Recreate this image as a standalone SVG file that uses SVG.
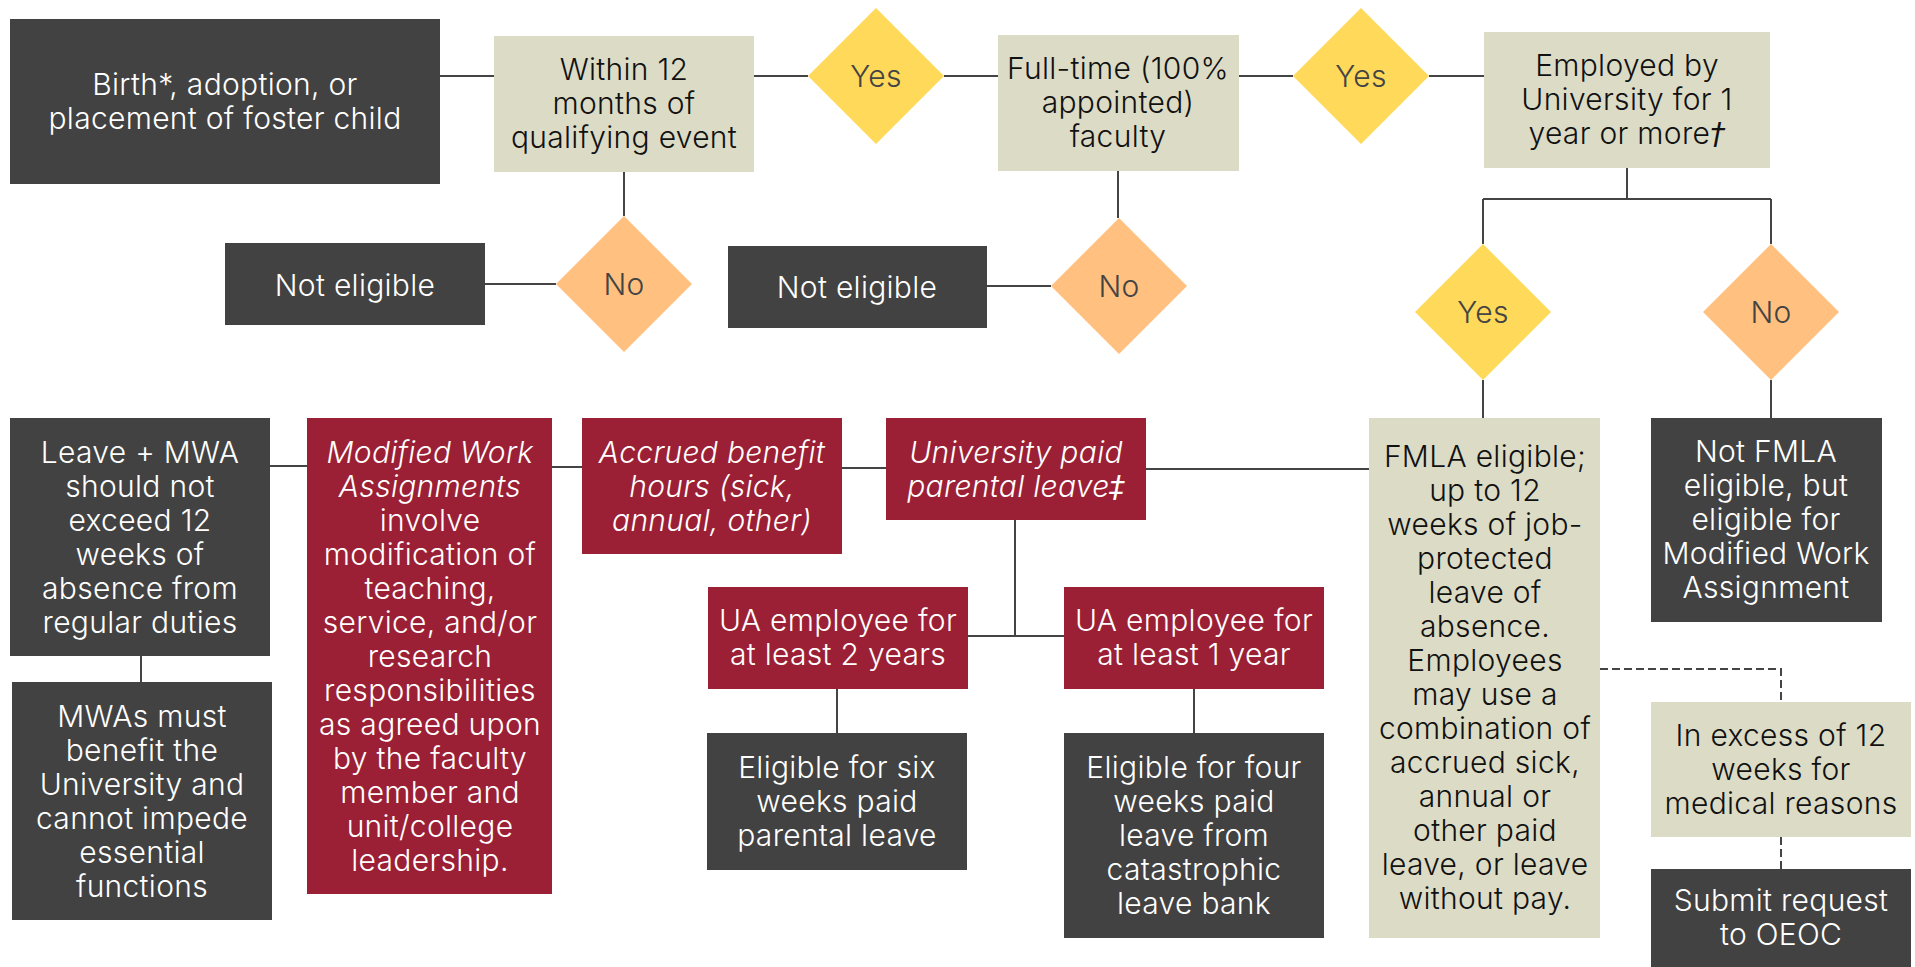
<svg xmlns="http://www.w3.org/2000/svg" width="1915" height="967" viewBox="0 0 1915 967">
<style>
text{font-family:Inter,"Noto Sans","Liberation Sans",sans-serif;font-size:30px;font-weight:300;letter-spacing:0.3px;text-anchor:middle}
.dark{fill:#424242}
.beige{fill:#DCDCC6}
.red{fill:#9C2035}
.yes{fill:#FFD95A}
.no{fill:#FFC080}
.tw{fill:#ffffff}
.tb{fill:#111111}
.td{fill:#444444}
.it{font-style:italic}
.sym{font-family:"DejaVu Sans",sans-serif;font-style:italic}
.ln{stroke:#444444;stroke-width:2;fill:none}
.dash{stroke:#444444;stroke-width:2;fill:none;stroke-dasharray:8 4}
</style>
<rect width="1915" height="967" fill="#ffffff"/>
<g id="connectors">
<path class="ln" d="M440 76H494M754 76H808M944 76H998M1239 76H1293M1429 76H1484"/>
<path class="ln" d="M624 172V216M485 284H556"/>
<path class="ln" d="M1118 171V218M987 286H1051"/>
<path class="ln" d="M1627 168V199M1483 199H1771M1483 199V244M1771 199V244M1483 380V418M1771 380V418"/>
<path class="ln" d="M270 466H307M552 467H582M842 468H886M1146 469H1369"/>
<path class="ln" d="M141 656V682"/>
<path class="ln" d="M1015 520V636M968 636H1064M837 689V733M1194 689V733"/>
<path class="dash" d="M1600 669H1781V702M1781 837V869"/>
</g>
<g id="birth"><rect class="dark" x="10" y="19" width="430" height="165"/><text class="tw" x="225" y="95">Birth*, adoption, or</text><text class="tw" x="225" y="129">placement of foster child</text></g>
<g id="within"><rect class="beige" x="494" y="36" width="260" height="136"/><text class="tb" x="624" y="80">Within 12</text><text class="tb" x="624" y="114">months of</text><text class="tb" x="624" y="148">qualifying event</text></g>
<g id="yes1"><polygon class="yes" points="876,8 944,76 876,144 808,76"/><text class="td" x="876" y="87">Yes</text></g>
<g id="fulltime"><rect class="beige" x="998" y="35" width="241" height="136"/><text class="tb" x="1118" y="79">Full-time (100%</text><text class="tb" x="1118" y="113">appointed)</text><text class="tb" x="1118" y="147">faculty</text></g>
<g id="yes2"><polygon class="yes" points="1361,8 1429,76 1361,144 1293,76"/><text class="td" x="1361" y="87">Yes</text></g>
<g id="employed"><rect class="beige" x="1484" y="32" width="286" height="136"/><text class="tb" x="1627" y="76">Employed by</text><text class="tb" x="1627" y="110">University for 1</text><text class="tb" x="1627" y="144">year or more<tspan class="sym">†</tspan></text></g>
<g id="no1"><polygon class="no" points="624,216 692,284 624,352 556,284"/><text class="td" x="624" y="295">No</text></g>
<g id="noteligible1"><rect class="dark" x="225" y="243" width="260" height="82"/><text class="tw" x="355" y="296">Not eligible</text></g>
<g id="no2"><polygon class="no" points="1119,218 1187,286 1119,354 1051,286"/><text class="td" x="1119" y="297">No</text></g>
<g id="noteligible2"><rect class="dark" x="728" y="246" width="259" height="82"/><text class="tw" x="857" y="298">Not eligible</text></g>
<g id="yes3"><polygon class="yes" points="1483,244 1551,312 1483,380 1415,312"/><text class="td" x="1483" y="323">Yes</text></g>
<g id="no3"><polygon class="no" points="1771,244 1839,312 1771,380 1703,312"/><text class="td" x="1771" y="323">No</text></g>
<g id="leavemwa"><rect class="dark" x="10" y="418" width="260" height="238"/>
<text class="tw" x="140" y="463">Leave + MWA</text><text class="tw" x="140" y="497">should not</text><text class="tw" x="140" y="531">exceed 12</text><text class="tw" x="140" y="565">weeks of</text><text class="tw" x="140" y="599">absence from</text><text class="tw" x="140" y="633">regular duties</text></g>
<g id="mwas"><rect class="dark" x="12" y="682" width="260" height="238"/>
<text class="tw" x="142" y="727">MWAs must</text><text class="tw" x="142" y="761">benefit the</text><text class="tw" x="142" y="795">University and</text><text class="tw" x="142" y="829">cannot impede</text><text class="tw" x="142" y="863">essential</text><text class="tw" x="142" y="897">functions</text></g>
<g id="modified"><rect class="red" x="307" y="418" width="245" height="476"/>
<text class="tw it" x="430" y="463">Modified Work</text><text class="tw it" x="430" y="497">Assignments</text><text class="tw" x="430" y="531">involve</text><text class="tw" x="430" y="565">modification of</text><text class="tw" x="430" y="599">teaching,</text><text class="tw" x="430" y="633">service, and/or</text><text class="tw" x="430" y="667">research</text><text class="tw" x="430" y="701">responsibilities</text><text class="tw" x="430" y="735">as agreed upon</text><text class="tw" x="430" y="769">by the faculty</text><text class="tw" x="430" y="803">member and</text><text class="tw" x="430" y="837">unit/college</text><text class="tw" x="430" y="871">leadership.</text></g>
<g id="accrued"><rect class="red" x="582" y="418" width="260" height="136"/>
<text class="tw it" x="712" y="463">Accrued benefit</text><text class="tw it" x="712" y="497">hours (sick,</text><text class="tw it" x="712" y="531">annual, other)</text></g>
<g id="univpaid"><rect class="red" x="886" y="418" width="260" height="102"/>
<text class="tw it" x="1016" y="463">University paid</text><text class="tw it" x="1016" y="497">parental leave<tspan class="sym">‡</tspan></text></g>
<g id="ua2"><rect class="red" x="708" y="587" width="260" height="102"/>
<text class="tw" x="838" y="631">UA employee for</text><text class="tw" x="838" y="665">at least 2 years</text></g>
<g id="ua1"><rect class="red" x="1064" y="587" width="260" height="102"/>
<text class="tw" x="1194" y="631">UA employee for</text><text class="tw" x="1194" y="665">at least 1 year</text></g>
<g id="six"><rect class="dark" x="707" y="733" width="260" height="137"/>
<text class="tw" x="837" y="778">Eligible for six</text><text class="tw" x="837" y="812">weeks paid</text><text class="tw" x="837" y="846">parental leave</text></g>
<g id="four"><rect class="dark" x="1064" y="733" width="260" height="205"/>
<text class="tw" x="1194" y="778">Eligible for four</text><text class="tw" x="1194" y="812">weeks paid</text><text class="tw" x="1194" y="846">leave from</text><text class="tw" x="1194" y="880">catastrophic</text><text class="tw" x="1194" y="914">leave bank</text></g>
<g id="fmla"><rect class="beige" x="1369" y="418" width="231" height="520"/>
<text class="tb" x="1485" y="467">FMLA eligible;</text><text class="tb" x="1485" y="501">up to 12</text><text class="tb" x="1485" y="535">weeks of job-</text><text class="tb" x="1485" y="569">protected</text><text class="tb" x="1485" y="603">leave of</text><text class="tb" x="1485" y="637">absence.</text><text class="tb" x="1485" y="671">Employees</text><text class="tb" x="1485" y="705">may use a</text><text class="tb" x="1485" y="739">combination of</text><text class="tb" x="1485" y="773">accrued sick,</text><text class="tb" x="1485" y="807">annual or</text><text class="tb" x="1485" y="841">other paid</text><text class="tb" x="1485" y="875">leave, or leave</text><text class="tb" x="1485" y="909">without pay.</text></g>
<g id="notfmla"><rect class="dark" x="1651" y="418" width="231" height="204"/>
<text class="tw" x="1766" y="462">Not FMLA</text><text class="tw" x="1766" y="496">eligible, but</text><text class="tw" x="1766" y="530">eligible for</text><text class="tw" x="1766" y="564">Modified Work</text><text class="tw" x="1766" y="598">Assignment</text></g>
<g id="excess"><rect class="beige" x="1651" y="702" width="260" height="135"/>
<text class="tb" x="1781" y="746">In excess of 12</text><text class="tb" x="1781" y="780">weeks for</text><text class="tb" x="1781" y="814">medical reasons</text></g>
<g id="submit"><rect class="dark" x="1651" y="869" width="260" height="98"/>
<text class="tw" x="1781" y="911">Submit request</text><text class="tw" x="1781" y="945">to OEOC</text></g>
</svg>
